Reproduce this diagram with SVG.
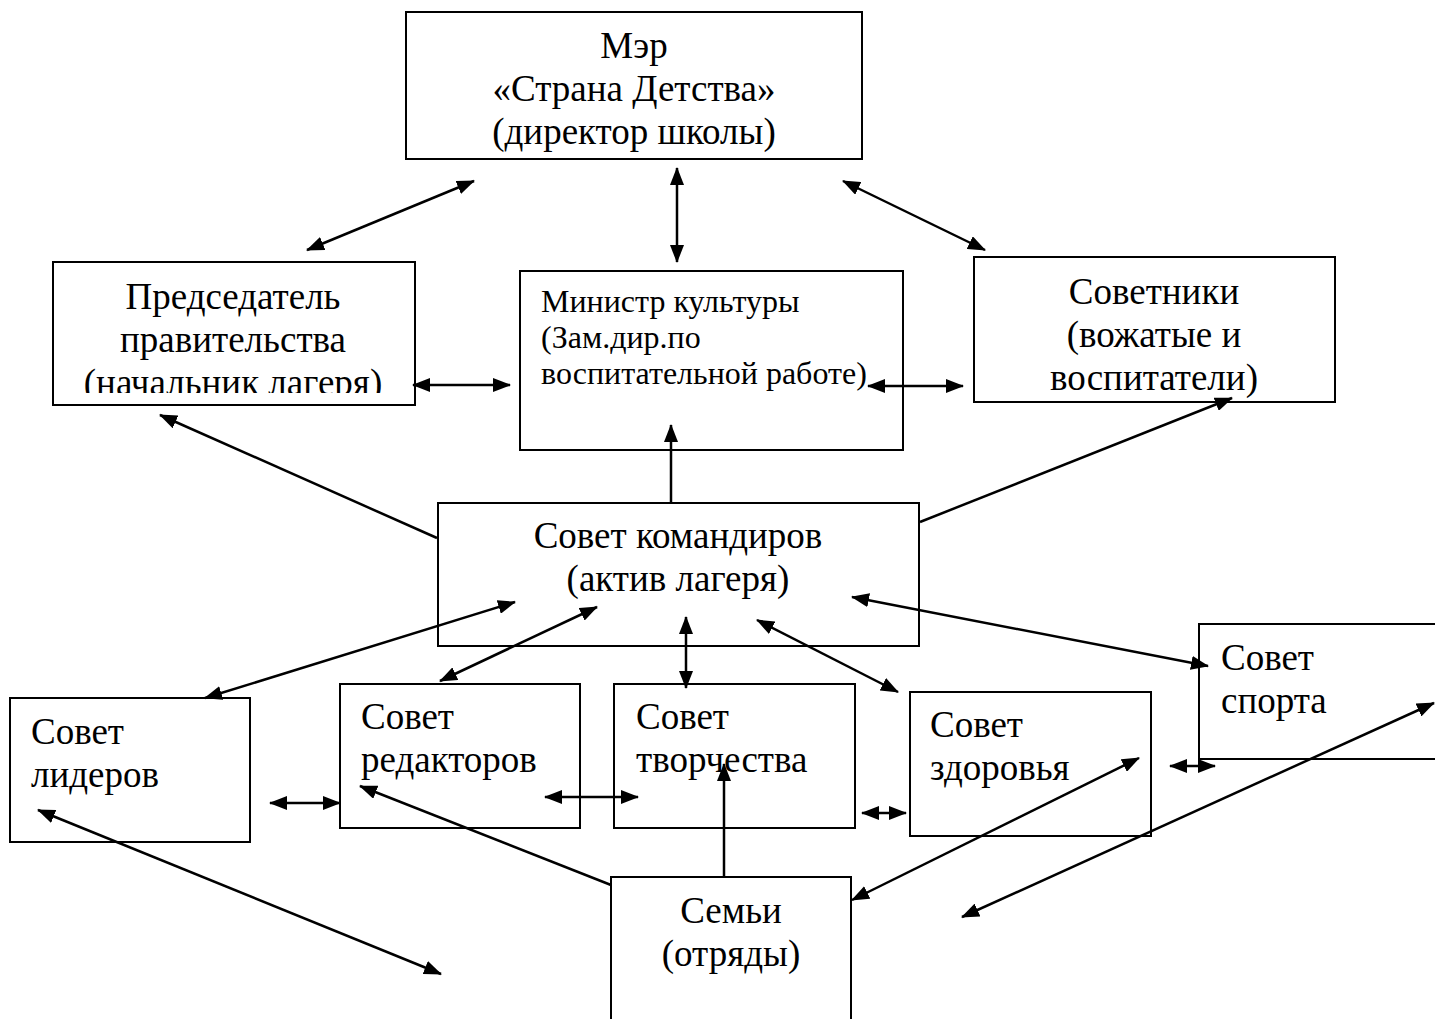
<svg xmlns="http://www.w3.org/2000/svg" width="1435" height="1019" viewBox="0 0 1435 1019">
<style>
.box{fill:#fff;stroke:#000;stroke-width:2}
.t{font-family:"Liberation Serif","Times New Roman",serif;font-size:37px;fill:#000}
.c{text-anchor:middle}
.s{font-size:32px}
.ln{stroke:#000;stroke-width:2.5;fill:none}
.bi{marker-start:url(#ah);marker-end:url(#ah)}
.one{marker-end:url(#ah)}
</style>
<defs>
<marker id="ah" markerUnits="userSpaceOnUse" markerWidth="18" markerHeight="14" refX="17" refY="7" orient="auto-start-reverse">
<path d="M0,0 L18,7 L0,14 z" fill="#000"/>
</marker>
<clipPath id="clipP"><rect x="53" y="262" width="362" height="131"/></clipPath>
</defs>
<rect width="1435" height="1019" fill="#fff"/>

<g id="mayor">
<rect class="box" x="406" y="12" width="456" height="147"/>
<text class="t c" x="634" y="58">Мэр</text>
<text class="t c" x="634" y="101">«Страна Детства»</text>
<text class="t c" x="634" y="144">(директор школы)</text>
</g>

<g id="chairman">
<rect class="box" x="53" y="262" width="362" height="143"/>
<g clip-path="url(#clipP)">
<text class="t c" x="233" y="309">Председатель</text>
<text class="t c" x="233" y="352">правительства</text>
<text class="t c" x="233" y="395">(начальник лагеря)</text>
</g>
</g>

<g id="minister">
<rect class="box" x="520" y="271" width="383" height="179"/>
<text class="t s" x="541" y="312">Министр культуры</text>
<text class="t s" x="541" y="348">(Зам.дир.по</text>
<text class="t s" x="541" y="384">воспитательной работе)</text>
</g>

<g id="advisors">
<rect class="box" x="974" y="257" width="361" height="145"/>
<text class="t c" x="1154" y="304">Советники</text>
<text class="t c" x="1154" y="347">(вожатые и</text>
<text class="t c" x="1154" y="390">воспитатели)</text>
</g>

<g id="commanders">
<rect class="box" x="438" y="503" width="481" height="143"/>
<text class="t c" x="678" y="548">Совет командиров</text>
<text class="t c" x="678" y="591">(актив лагеря)</text>
</g>

<g id="leaders">
<rect class="box" x="10" y="698" width="240" height="144"/>
<text class="t" x="31" y="744">Совет</text>
<text class="t" x="31" y="787">лидеров</text>
</g>

<g id="editors">
<rect class="box" x="340" y="684" width="240" height="144"/>
<text class="t" x="361" y="729">Совет</text>
<text class="t" x="361" y="772">редакторов</text>
</g>

<g id="creativity">
<rect class="box" x="614" y="684" width="241" height="144"/>
<text class="t" x="636" y="729">Совет</text>
<text class="t" x="636" y="772">творчества</text>
</g>

<g id="health">
<rect class="box" x="910" y="692" width="241" height="144"/>
<text class="t" x="930" y="737">Совет</text>
<text class="t" x="930" y="780">здоровья</text>
</g>

<g id="sport">
<rect class="box" x="1199" y="624" width="250" height="135"/>
<text class="t" x="1221" y="670">Совет</text>
<text class="t" x="1221" y="713">спорта</text>
</g>

<g id="families">
<rect class="box" x="611" y="877" width="240" height="160"/>
<text class="t c" x="731" y="923">Семьи</text>
<text class="t c" x="731" y="966">(отряды)</text>
</g>

<g id="connectors">
<line class="ln bi" x1="307" y1="250" x2="474" y2="181"/>
<line class="ln bi" x1="677" y1="168" x2="677" y2="262"/>
<line class="ln bi" x1="843" y1="181" x2="985" y2="250"/>
<line class="ln bi" x1="413" y1="385" x2="510" y2="385"/>
<line class="ln bi" x1="868" y1="386" x2="963" y2="386"/>
<line class="ln one" x1="437" y1="538" x2="160" y2="415"/>
<line class="ln one" x1="671" y1="503" x2="671" y2="425"/>
<line class="ln one" x1="920" y1="522" x2="1232" y2="398"/>
<line class="ln bi" x1="515" y1="602" x2="205" y2="698"/>
<line class="ln bi" x1="597" y1="607" x2="440" y2="681"/>
<line class="ln bi" x1="686" y1="617" x2="686" y2="688"/>
<line class="ln bi" x1="757" y1="620" x2="898" y2="692"/>
<line class="ln bi" x1="852" y1="597" x2="1208" y2="666"/>
<line class="ln bi" x1="270" y1="803" x2="340" y2="803"/>
<line class="ln bi" x1="545" y1="797" x2="638" y2="797"/>
<line class="ln bi" x1="862" y1="813" x2="906" y2="813"/>
<line class="ln bi" x1="1170" y1="766" x2="1215" y2="766"/>
<line class="ln bi" x1="38" y1="810" x2="441" y2="974"/>
<line class="ln one" x1="611" y1="885" x2="360" y2="786"/>
<line class="ln one" x1="724" y1="877" x2="724" y2="764"/>
<line class="ln bi" x1="1139" y1="758" x2="852" y2="900"/>
<line class="ln bi" x1="1434" y1="703" x2="962" y2="917"/>
</g>
</svg>
